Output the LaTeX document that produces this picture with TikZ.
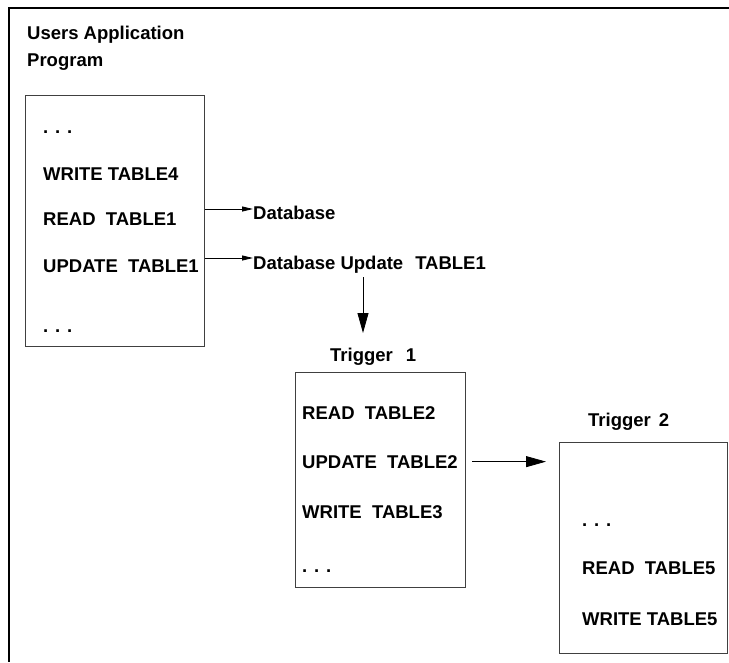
\documentclass[tikz,border=0pt]{standalone}
\usepackage{fontspec}
\setmainfont{Liberation Sans}
\usetikzlibrary{arrows.meta,positioning,calc}

\begin{document}
\begin{tikzpicture}[
  x=1pt, y=-1pt,
  box/.style={draw=black!75, line width=1pt, anchor=north west, inner sep=0pt},
  lbl/.style={anchor=base west, inner sep=0pt, font=\fontsize{18.5}{22}\selectfont\bfseries},
  arrsmall/.style={-{Triangle[length=11pt, width=5pt]}, line width=0.8pt},
  arrbig/.style={-{Triangle[length=20pt, width=11pt]}, line width=0.8pt}
]
  \useasboundingbox (0,0) rectangle (729,662);
  \draw[line width=1.5pt] (729,8) -- (9,8) -- (9,662);

  \node[lbl] (title) at (27,39) {Users Application};
  \node[lbl] (title2) at (27,66) {Program};

  % application program
  \node[box, minimum width=179pt, minimum height=251pt] (app) at (25,95) {};
  \node[lbl] (dotsa) at (43,133) {. . .};
  \node[lbl] (wr4) at (43,180) {WRITE TABLE4};
  \node[lbl] (rd1) at (43,225) {READ\ \ TABLE1};
  \node[lbl] (upd1) at (43,272) {UPDATE\ \ TABLE1};
  \node[lbl] (dotsb) at (43,332) {. . .};

  \node[lbl] (db) at (253,219) {Database};
  \node[lbl] (dbu) at (253,269) {Database Update\hspace{12pt}TABLE1};
  \coordinate (tip1) at (363,333);

  % trigger 1
  \node[lbl] (trg1) at (330,361) {Trigger\hspace{13pt}1};
  \node[box, minimum width=170pt, minimum height=215pt] (t1box) at (295,372) {};
  \node[lbl] (rd2) at (302,419) {READ\ \ TABLE2};
  \node[lbl] (upd2) at (302,468) {UPDATE\ \ TABLE2};
  \node[lbl] (wr3) at (302,518) {WRITE\ \ TABLE3};
  \node[lbl] (dotsc) at (302,572) {. . .};

  % trigger 2
  \node[lbl] (trg2) at (588,426) {Trigger\hspace{8pt}2};
  \node[box, minimum width=168pt, minimum height=211pt] (t2box) at (559,442) {};
  \node[lbl] (dotsd) at (582,526) {. . .};
  \node[lbl] (rd5) at (582,574) {READ\ \ TABLE5};
  \node[lbl] (wr5) at (582,625) {WRITE TABLE5};

  \draw[arrsmall] (app.east |- 0,209) -- (db.west |- 0,209);
  \draw[arrsmall] (app.east |- 0,258) -- (dbu.west |- 0,258);
  \draw[arrbig] ($(dbu.south -| tip1)+(0,4)$) -- (tip1);
  \draw[arrbig] ($(t1box.east |- upd2)+(6,0)$) -- ($(t2box.west |- upd2)+(-13,0)$);
\end{tikzpicture}
\end{document}
